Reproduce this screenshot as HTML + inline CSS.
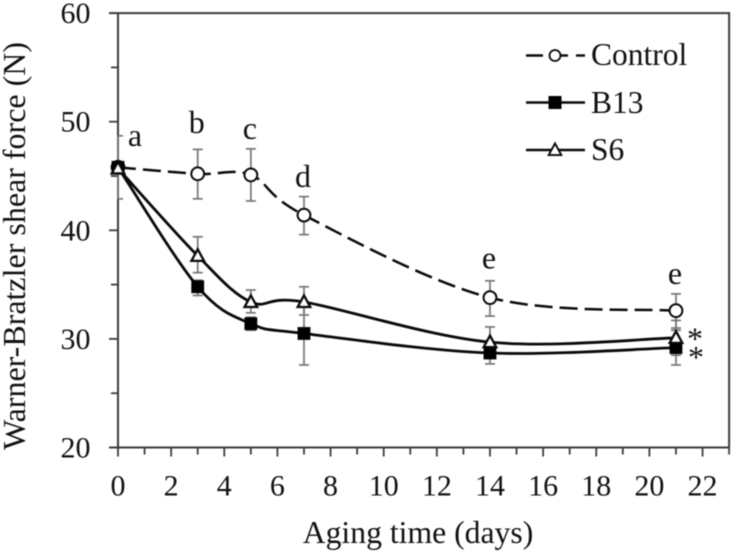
<!DOCTYPE html>
<html lang="en">
<head>
<meta charset="utf-8">
<title>Warner-Bratzler shear force</title>
<style>
html,body{margin:0;padding:0;background:#fff;width:731px;height:554px;overflow:hidden}
svg{display:block;filter:blur(0.45px)}
text{font-family:"Liberation Serif",serif;fill:#111}
</style>
</head>
<body>
<svg id="chart" width="731" height="554" viewBox="0 0 731 554" xmlns="http://www.w3.org/2000/svg"></svg>
<script>
const days = [0, 3, 5, 7, 14, 21];
const controlValues = [45.8, 45.2, 45.1, 41.4, 33.8, 32.6];
const controlUpper = [48.7, 47.45, 47.5, 43.1, 35.35, 34.15];
const controlLower = [42.9, 42.9, 42.7, 39.6, 32.1, 31.0];
const b13Values = [45.8, 34.8, 31.4, 30.5, 28.7, 29.2];
const b13Upper = [46.3, 35.4, 32.0, 33.4, 29.7, 30.8];
const b13Lower = [45.3, 34.0, 30.8, 27.6, 27.7, 27.6];
const s6Values = [45.7, 37.65, 33.4, 33.4, 29.7, 30.1];
const s6Upper = [46.2, 39.4, 34.5, 34.8, 31.1, 31.7];
const s6Lower = [45.2, 36.1, 32.4, 32.2, 28.3, 28.5];
const xTickValues = [0, 1, 2, 3, 4, 5, 6, 7, 8, 9, 10, 11, 12, 13, 14, 15, 16, 17, 18, 19, 20, 21, 22, 23];
const yTickValues = [20, 25, 30, 35, 40, 45, 50, 55, 60];
const sigLetters = ["a", "b", "c", "d", "e", "e"];
const sigLevels = [47.75, 48.98, 48.4, 44.0, 36.5, 35.05];

const NS = "http://www.w3.org/2000/svg";
const svg = document.getElementById("chart");
const xScale = d => 118 + d * 26.57;
const yScale = v => 447.5 - (v - 20) * 10.86;
const AXIS = "#3c3c3c", ERR = "#767676", INK = "#0a0a0a";

function make(tag, attrs, parent) {
  const el = document.createElementNS(NS, tag);
  for (const k in attrs) el.setAttribute(k, attrs[k]);
  (parent || svg).appendChild(el);
  return el;
}
function group(name) {
  const g = make("g", {});
  
  
  return g;
}
function smoothPath(values) {
  const p = values.map((v, i) => [xScale(days[i]), yScale(v)]);
  let d = "M" + p[0][0] + " " + p[0][1];
  for (let i = 0; i < p.length - 1; i++) {
    const a = p[Math.max(i - 1, 0)], b = p[i], c = p[i + 1], e = p[Math.min(i + 2, p.length - 1)];
    const c1x = b[0] + (c[0] - a[0]) / 6, c1y = b[1] + (c[1] - a[1]) / 6;
    const c2x = c[0] - (e[0] - b[0]) / 6, c2y = c[1] - (e[1] - b[1]) / 6;
    d += " C" + c1x + " " + c1y + " " + c2x + " " + c2y + " " + c[0] + " " + c[1];
  }
  return d;
}
function drawMarker(kind, cx, cy, size, parent, sw) {
  if (kind === "circle") {
    return make("circle", {cx: cx, cy: cy, r: size, fill: "#fff", stroke: INK, "stroke-width": sw}, parent);
  }
  if (kind === "square") {
    return make("rect", {x: cx - size, y: cy - size, width: size * 2, height: size * 2, fill: "#000", stroke: "none"}, parent);
  }
  const pts = [[cx, cy - size * 1.05], [cx + size, cy + size * 0.8], [cx - size, cy + size * 0.8]].map(q => q.join(",")).join(" ");
  return make("polygon", {points: pts, fill: "#fff", stroke: INK, "stroke-width": sw, "stroke-linejoin": "miter"}, parent);
}

/* axes */
const axes = group("axes");
const yAxisLine = make("line", {x1: xScale(0), x2: xScale(0), y1: yScale(60), y2: yScale(20), stroke: AXIS, "stroke-width": 2}, axes);


const xAxisLine = make("line", {x1: xScale(0) - 9, x2: xScale(23), y1: yScale(20), y2: yScale(20), stroke: AXIS, "stroke-width": 2}, axes);


const topFrame = make("line", {x1: xScale(0) - 9, x2: xScale(23) + 1, y1: yScale(60), y2: yScale(60), stroke: AXIS, "stroke-width": 2}, axes);


const rightFrame = make("line", {x1: xScale(23), x2: xScale(23), y1: yScale(60), y2: yScale(20), stroke: AXIS, "stroke-width": 2}, axes);



xTickValues.forEach(t => {
  const major = t % 2 === 0;
  const tick = make("line", {x1: xScale(t), x2: xScale(t), y1: yScale(20), y2: yScale(20) + (major ? 9 : 7), stroke: AXIS, "stroke-width": 1.8}, axes);
  
  
  if (major && t < 23) {
    const lab = make("text", {x: xScale(t), y: 495.5, "text-anchor": "middle", "font-size": 30}, axes);
    lab.textContent = t;
    
    
  }
});
yTickValues.forEach(t => {
  const major = t % 10 === 0;
  const tick = make("line", {x1: xScale(0) - (major ? 9 : 7), x2: xScale(0), y1: yScale(t), y2: yScale(t), stroke: AXIS, "stroke-width": 1.8}, axes);
  
  
  if (major) {
    const lab = make("text", {x: 90.5, y: yScale(t) + 10, "text-anchor": "end", "font-size": 30}, axes);
    lab.textContent = t;
    
    
  }
});

const xTitle = make("text", {x: 418, y: 543, "text-anchor": "middle", "font-size": 31.7});
xTitle.textContent = "Aging time (days)";


const yTitle = make("text", {x: 0, y: 0, "text-anchor": "middle", "font-size": 32, transform: "translate(25 246) rotate(-90)"});
yTitle.textContent = "Warner-Bratzler shear force (N)";



/* error bars */
function drawErrors(upper, lower, name) {
  const g = group(name);
  days.forEach((d, i) => {
    const x = xScale(d), top = yScale(upper[i]), bot = yScale(lower[i]);
    const left = d === 0 ? x : x - 5;
    make("line", {x1: x, x2: x, y1: top, y2: bot, stroke: ERR, "stroke-width": 1.7}, g);
    make("line", {x1: left, x2: x + 5, y1: top, y2: top, stroke: ERR, "stroke-width": 1.7}, g);
    make("line", {x1: left, x2: x + 5, y1: bot, y2: bot, stroke: ERR, "stroke-width": 1.7}, g);
  });
}
drawErrors(controlUpper, controlLower, "control-error-bars");
drawErrors(b13Upper, b13Lower, "b13-error-bars");
drawErrors(s6Upper, s6Lower, "s6-error-bars");

/* series */
const controlLine = make("path", {d: smoothPath(controlValues), fill: "none", stroke: INK, "stroke-width": 2.5, "stroke-dasharray": "18 7"});


const b13Line = make("path", {d: smoothPath(b13Values), fill: "none", stroke: INK, "stroke-width": 2.8});


const s6Line = make("path", {d: smoothPath(s6Values), fill: "none", stroke: INK, "stroke-width": 2.8});



const controlPoints = group("control-points");
controlValues.forEach((v, i) => {
  const m = drawMarker("circle", xScale(days[i]), yScale(v), 6.4, controlPoints, 2);
  
  
});
const b13Points = group("b13-points");
b13Values.forEach((v, i) => {
  const m = drawMarker("square", xScale(days[i]), yScale(v), 6.4, b13Points, 0);
  
  
});
const s6Points = group("s6-points");
s6Values.forEach((v, i) => {
  const m = drawMarker("triangle", xScale(days[i]), yScale(v), 6.3, s6Points, 2.3);
  
  
});

/* significance letters and asterisks */
const letters = group("significance-letters");
sigLetters.forEach((s, i) => {
  const t = make("text", {x: xScale(days[i]) + (i === 0 ? 17 : -1), y: yScale(sigLevels[i]), "text-anchor": "middle", "font-size": 32}, letters);
  t.textContent = s;
  
  
});
const last = days.length - 1;
const starS6 = make("text", {x: xScale(days[last]) + 19, y: yScale(s6Values[last]) + 11.5, "text-anchor": "middle", "font-size": 32});
starS6.textContent = "*";


const starB13 = make("text", {x: xScale(days[last]) + 20, y: yScale(b13Values[last]) + 20.5, "text-anchor": "middle", "font-size": 32});
starB13.textContent = "*";



/* legend */
const legend = group("legend");
const legendControl = make("g", {}, legend);


make("line", {x1: 526, x2: 543, y1: 55.5, y2: 55.5, stroke: INK, "stroke-width": 2.4}, legendControl);
make("line", {x1: 560, x2: 568, y1: 55.5, y2: 55.5, stroke: INK, "stroke-width": 2.4}, legendControl);
make("line", {x1: 576, x2: 585, y1: 55.5, y2: 55.5, stroke: INK, "stroke-width": 2.4}, legendControl);
drawMarker("circle", 555, 55.5, 5.5, legendControl, 1.8);
const legendControlText = make("text", {x: 591, y: 65, "font-size": 31.5}, legendControl);
legendControlText.textContent = "Control";

const legendB13 = make("g", {}, legend);


make("line", {x1: 526, x2: 585, y1: 102.5, y2: 102.5, stroke: INK, "stroke-width": 2.4}, legendB13);
drawMarker("square", 555, 102.5, 6.5, legendB13, 0);
const legendB13Text = make("text", {x: 591, y: 113, "font-size": 31.5}, legendB13);
legendB13Text.textContent = "B13";

const legendS6 = make("g", {}, legend);


make("line", {x1: 526, x2: 585, y1: 150, y2: 150, stroke: INK, "stroke-width": 2.4}, legendS6);
drawMarker("triangle", 555, 150, 6.3, legendS6, 1.9);
const legendS6Text = make("text", {x: 591, y: 160, "font-size": 31.5}, legendS6);
legendS6Text.textContent = "S6";
</script>
</body>
</html>
